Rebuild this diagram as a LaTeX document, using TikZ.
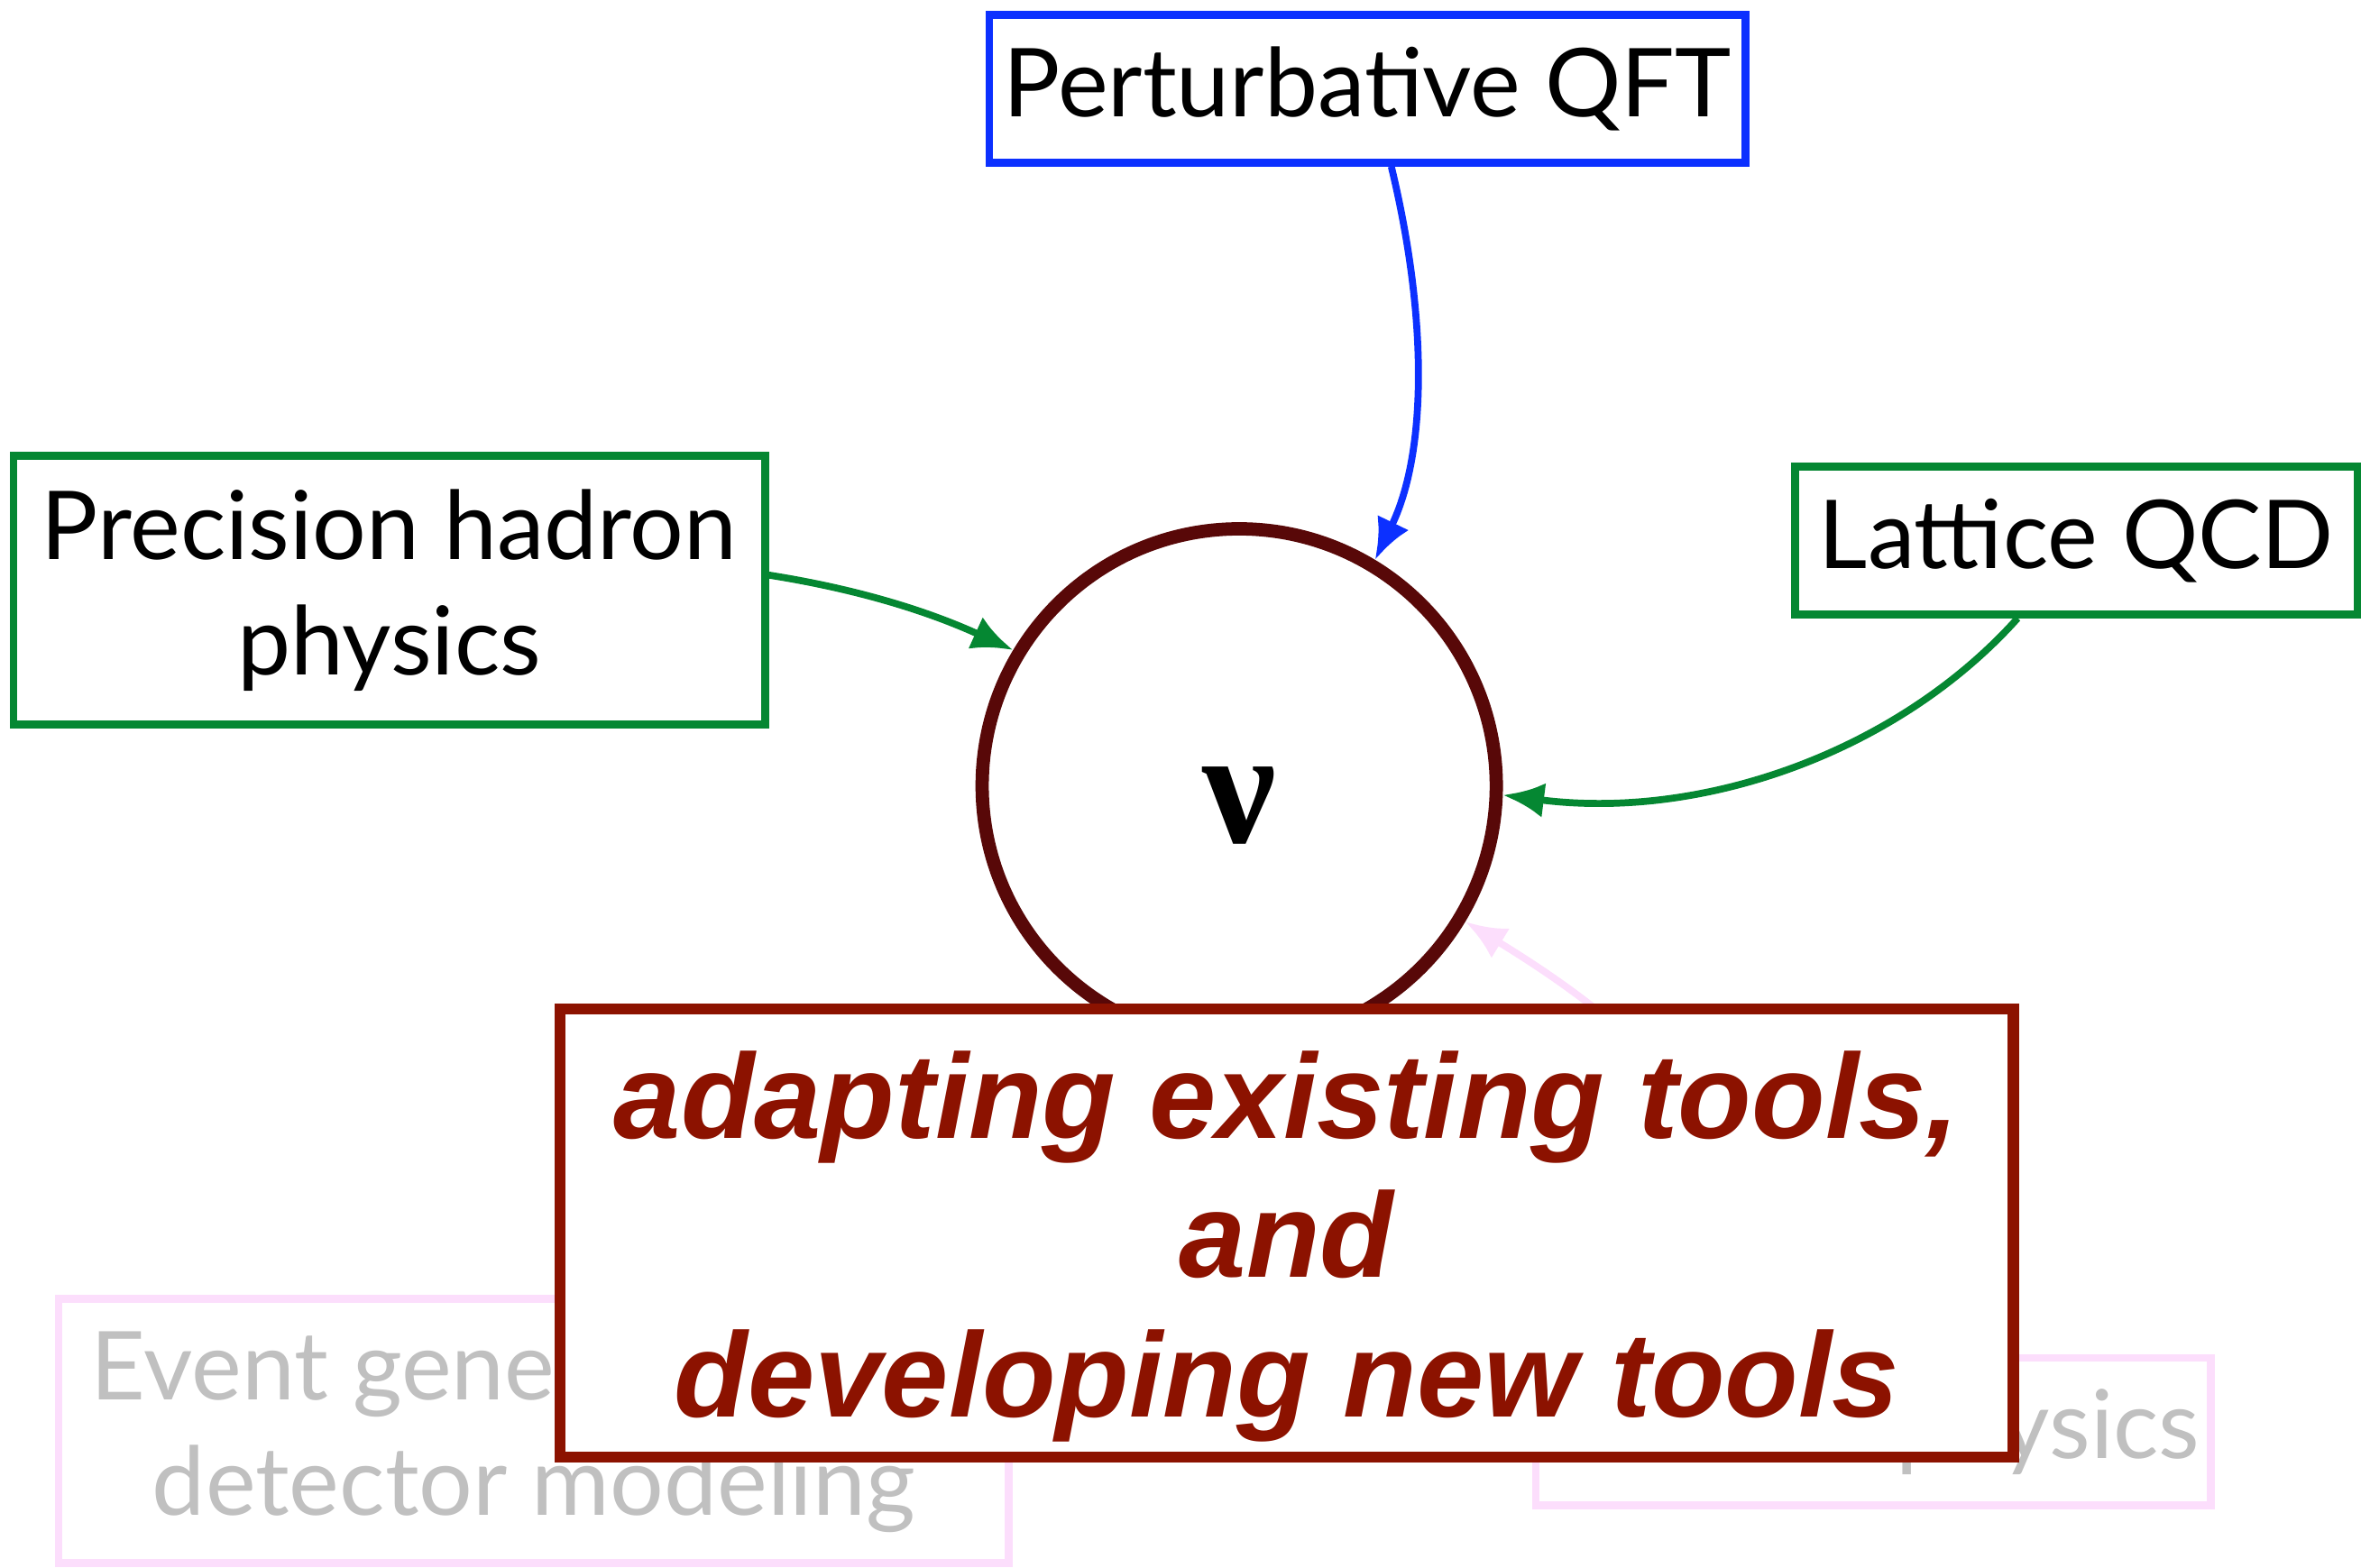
\documentclass[tikz,border=0pt]{standalone}
\usepackage{fontspec}
\setmainfont{Lato}
\newfontfamily\toolsfont{Liberation Sans}
\newfontfamily\nufont{Liberation Serif}
\usetikzlibrary{arrows.meta,calc}
\definecolor{qftblue}{RGB}{12,48,255}
\definecolor{hadgreen}{RGB}{5,135,50}
\definecolor{nubrown}{RGB}{88,8,8}
\definecolor{toolred}{RGB}{140,18,0}
\definecolor{fadepink}{RGB}{252,222,252}
\definecolor{fadegrey}{RGB}{192,192,192}
\tikzset{
  field/.style={draw, line width=2.5pt, fill=white, inner sep=0pt, align=center,
    font=\fontsize{30}{36.5}\selectfont},
  faded/.style={field, draw=fadepink, text=fadegrey},
  feed/.style={-{Latex[length=13pt,width=11pt]}, line width=2.2pt},
}
\begin{document}
\begin{tikzpicture}[x=0.016696cm, y=-0.016696cm]
\useasboundingbox (0,0) rectangle (1568,1041);

\node[faded, minimum width=10.535cm, minimum height=2.922cm] (evgen) at (354.5,950.5) {Event generators and\\detector modeling};
\node[faded, minimum width=7.48cm, minimum height=1.636cm] (nuclear) at (1244,951) {Nuclear physics};

\node[draw=nubrown, line width=4.2pt, circle, fill=white, minimum size=5.7cm,
  text height=36pt, text depth=0pt,
  font=\nufont\bfseries\fontsize{52}{52}\selectfont] (nu) at (823,522) {ν};

\node[field, draw=qftblue, minimum width=8.381cm, minimum height=1.636cm] (qft) at (908,59) {Perturbative QFT};
\node[field, draw=hadgreen, minimum width=8.331cm, minimum height=2.972cm] (hadron) at (258.5,392) {Precision hadron\\physics};
\node[field, draw=hadgreen, minimum width=6.244cm, minimum height=1.636cm] (lattice) at (1379,359) {Lattice QCD};

\draw[feed, fadepink] ($(nuclear.north)+(-60,0)$) .. controls (1170,760) and (1100,690) .. (nu.-31);
\draw[feed, qftblue] ($(qft.south)+(16,0)$) .. controls (948,210) and (948,300) .. (nu.59);
\draw[feed, hadgreen] ($(hadron.east)+(0,-10)$) .. controls (580,393) and (625,410) .. (nu.149);
\draw[feed, hadgreen] ($(lattice.south)+(-39,0)$) .. controls (1260,500) and (1130,545) .. (nu.-2);

\node[draw=toolred, line width=3.5pt, fill=white, inner sep=0pt, align=center,
  minimum width=16.11cm, minimum height=4.975cm, text=toolred,
  font=\toolsfont\bfseries\itshape\fontsize{38}{44}\selectfont] (tools) at (854.5,819)
  {\rule{0pt}{36pt}adapting existing tools,\\and\\developing new tools};
\end{tikzpicture}
\end{document}
